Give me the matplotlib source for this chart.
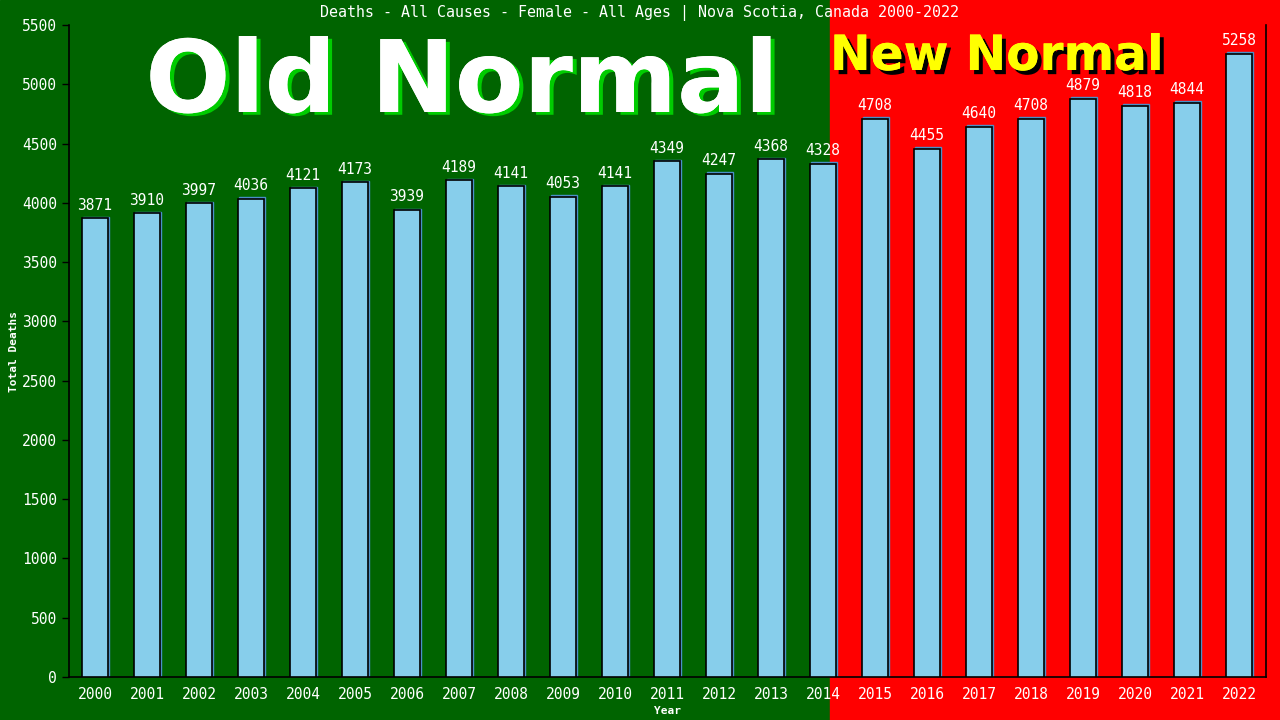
import matplotlib.pyplot as plt
import matplotlib.patheffects as pe
from matplotlib.patches import Rectangle
from matplotlib.transforms import ScaledTranslation

# Data
years = list(range(2000, 2023))
deaths = [3871, 3910, 3997, 4036, 4121, 4173, 3939, 4189, 4141, 4053, 4141, 4349,
          4247, 4368, 4328, 4708, 4455, 4640, 4708, 4879, 4818, 4844, 5258]
y_ticks = list(range(0, 5501, 500))
split_year = 2014.13   # where the old/new background changes

title = "Deaths - All Causes - Female - All Ages | Nova Scotia, Canada 2000-2022"

green = '#006400'
red = '#ff0000'
mono = 'DejaVu Sans Mono'

fig = plt.figure(figsize=(12.8, 7.2), dpi=100)
ax = fig.add_axes([69/1280, 43/720, (1266-69)/1280, (677-25)/720])
ax.set_xlim(years[0] - 0.5, years[-1] + 0.52)
ax.set_ylim(0, 5500)

# background halves, split at the data position of split_year
split_px = ax.transData.transform((split_year, 0))[0]
split_fig = fig.transFigure.inverted().transform((split_px, 0))[0]
fig.patches.append(Rectangle((0, 0), split_fig, 1, transform=fig.transFigure,
                             color=green, zorder=-10))
fig.patches.append(Rectangle((split_fig, 0), 1 - split_fig, 1, transform=fig.transFigure,
                             color=red, zorder=-10))
ax.patch.set_alpha(0)

# shadow bars then main bars
shadow = ax.transData + ScaledTranslation(1.5/100, 1.5/100, fig.dpi_scale_trans)
ax.bar(years, deaths, width=0.5, color='#4a90c8', edgecolor='#4a90c8',
       linewidth=1, transform=shadow, zorder=2)
ax.bar(years, deaths, width=0.5, color='#87ceeb', edgecolor='black',
       linewidth=1.2, zorder=3)

for x, v in zip(years, deaths):
    ax.annotate(str(v), (x, v), xytext=(0, 4), textcoords='offset points',
                ha='center', va='bottom', color='white', fontsize=10.5,
                family=mono, zorder=4)

ax.set_yticks(y_ticks)
ax.set_xticks(years)
ax.tick_params(axis='y', colors='black', labelcolor='white', labelsize=10.5,
               length=5, width=1)
ax.tick_params(axis='x', length=0, labelcolor='white', labelsize=10.5, pad=7)
for lbl in ax.get_xticklabels() + ax.get_yticklabels():
    lbl.set_family(mono)

ax.spines['top'].set_visible(False)
for s in ['left', 'right', 'bottom']:
    ax.spines[s].set_color('black')
    ax.spines[s].set_linewidth(1.2)

ax.set_ylabel('Total Deaths', color='white', fontsize=8, family=mono,
              fontweight='bold', labelpad=2)
ax.set_xlabel('Year', color='white', fontsize=8, family=mono,
              fontweight='bold', labelpad=3)

fig.text(0.5, 1 - 13/720, title, ha='center', va='center', color='white',
         fontsize=10.8, family=mono)

# big captions
fig.text(462/1280, 1 - 112/720, 'Old Normal', ha='center', va='baseline',
         color='white', fontsize=72, fontweight='bold', family='DejaVu Sans',
         path_effects=[pe.withSimplePatchShadow(offset=(3, -2), shadow_rgbFace='#00cc00',
                                                alpha=1.0), pe.Normal()])
fig.text(830/1280, 1 - 70/720, 'New Normal', ha='left', va='baseline',
         color='#ffff00', fontsize=35, fontweight='bold', family='DejaVu Sans',
         path_effects=[pe.withSimplePatchShadow(offset=(3, -3), shadow_rgbFace='black',
                                                alpha=1.0), pe.Normal()])

fig.savefig('out.png', dpi=100)
